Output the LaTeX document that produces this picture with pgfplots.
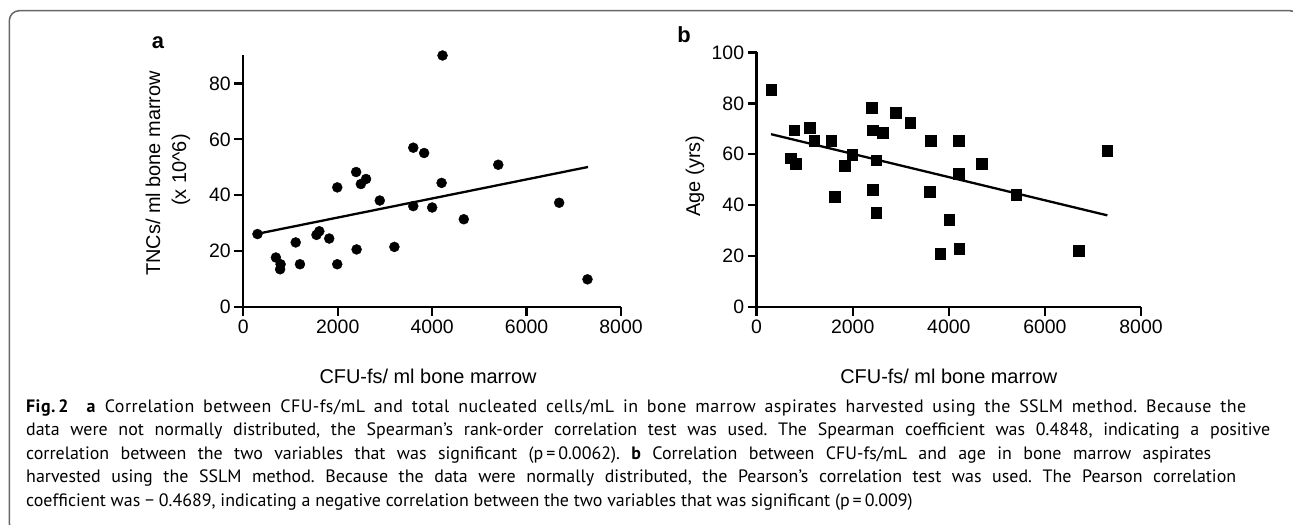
\documentclass[border=0pt]{standalone}
\usepackage{pgfplots}
\pgfplotsset{compat=1.18}
\usepackage{fontspec}
\setmainfont{Liberation Sans}
\newfontfamily\capfont{PT Sans}
\newfontfamily\capfontwide[LetterSpace=2.5]{PT Sans}
\frenchspacing
\begin{document}
\begin{tikzpicture}[x=1bp,y=1bp]
\useasboundingbox (0,0) rectangle (1293,525);
\begin{scope}
\clip (0,0) rectangle (1293,525);
\draw[line width=1.5bp, color=black!60, rounded corners=10bp] (9.3,514.3) rectangle (1300,-8);
\end{scope}
\pgfplotsset{
  myax/.style={
    scale only axis, anchor=south west,
    xmin=0, xmax=8000, ymin=0,
    axis lines=left, axis line style={-, line width=2.3bp},
    xtick={0,2000,...,8000},
    tick align=outside, major tick length=9bp,
    tick style={line width=2.3bp, black},
    ticklabel style={font=\fontsize{19.5}{20}\selectfont},
    /pgf/number format/assume math mode=true,
    /pgf/number format/1000 sep={},
    clip=false,
  }
}
% Panel a
\begin{axis}[myax, at={(243.3bp,218bp)}, width=377.7bp, height=251.5bp, ymax=90, ytick={0,20,...,80}]
\addplot[only marks, mark=*, mark size=5bp, black] coordinates {
(300,26.1) (690,17.7) (790,15.3) (780,13.5) (1110,23.1) (1200,15.3) (1550,25.8) (1610,27.1) (1820,24.5) (1990,42.8) (1990,15.3) (2390,48.3) (2400,20.6) (2490,44.0) (2600,45.8) (2890,38.1) (3200,21.5) (3600,57.0) (3600,36.1) (3830,55.1) (4000,35.6) (4200,44.4) (4220,90.0) (4670,31.4) (5400,50.9) (6690,37.3) (7290,9.9)};
\addplot[black, line width=2.3bp] coordinates {(300,26.2) (7300,50.1)};
\draw[line width=2.3bp] (axis cs:0,0) -- ++(-9.3bp,0);
\draw[line width=2.3bp] (axis cs:0,0) -- ++(0,-8bp);
\end{axis}
% Panel b
\begin{axis}[myax, at={(756.6bp,218bp)}, width=384.4bp, height=254.5bp, ymax=100, ytick={0,20,...,100}]
\addplot[only marks, mark=square*, mark size=5.3bp, black] coordinates {
(300,85.3) (780,69.4) (1100,70.4) (1200,65.4) (1550,65.4) (710,58.4) (810,56.3) (1990,59.8) (1830,55.5) (1620,43.3) (2390,78.3) (2410,69.4) (2620,68.4) (2490,57.6) (2410,46.2) (2490,37.0) (2900,76.3) (3200,72.4) (3620,65.4) (3600,45.3) (4010,34.4) (3820,20.9) (4200,65.4) (4200,52.3) (4220,23.0) (4680,56.4) (5400,44.2) (6700,22.2) (7300,61.4)};
\addplot[black, line width=2.3bp] coordinates {(300,67.9) (7300,36.0)};
\draw[line width=2.3bp] (axis cs:0,0) -- ++(-8.5bp,0);
\draw[line width=2.3bp] (axis cs:0,0) -- ++(0,-8bp);
\end{axis}
% labels
\node[font=\fontsize{20}{22}\selectfont] at (428bp,149bp) {CFU-fs/ ml bone marrow};
\node[font=\fontsize{20}{22}\selectfont] at (948.8bp,149bp) {CFU-fs/ ml bone marrow};
\node[font=\fontsize{20}{22}\selectfont, rotate=90] at (153bp,351.5bp) {TNCs/ ml bone marrow};
\node[font=\fontsize{20}{22}\selectfont, rotate=90] at (181bp,355bp) {(x 10\textasciicircum 6)};
\node[font=\fontsize{20}{22}\selectfont, rotate=90] at (695bp,349bp) {Age (yrs)};
\node[font=\fontsize{22}{24}\selectfont\bfseries] at (158bp,482bp) {a};
\node[font=\fontsize{22}{24}\selectfont\bfseries] at (684bp,490bp) {b};
% caption
\begin{scope}[every node/.style={anchor=base west, inner sep=0pt, font=\capfont\fontsize{18}{20}\selectfont}]
\node[font=\capfontwide\fontsize{18}{20}\selectfont] at (26bp,112.5bp) {\makebox[1220bp][s]{\textbf{Fig.\,2}\ \ \textbf{a} Correlation between CFU-fs/mL and total nucleated cells/mL in bone marrow aspirates harvested using the SSLM method. Because the}};
\node at (26bp,89bp) {\makebox[1244bp][s]{data were not normally distributed, the Spearman’s rank-order correlation test was used. The Spearman coefficient was 0.4848, indicating a positive}};
\node at (26bp,65.5bp) {\makebox[1185bp][s]{correlation between the two variables that was significant (p\,=\,0.0062). \textbf{b} Correlation between CFU-fs/mL and age in bone marrow aspirates}};
\node at (26bp,42bp) {\makebox[1210bp][s]{harvested using the SSLM method. Because the data were normally distributed, the Pearson’s correlation test was used. The Pearson correlation}};
\node at (26bp,18.5bp) {coefficient was − 0.4689, indicating a negative correlation between the two variables that was significant (p\,=\,0.009)};
\end{scope}
\end{tikzpicture}
\end{document}
